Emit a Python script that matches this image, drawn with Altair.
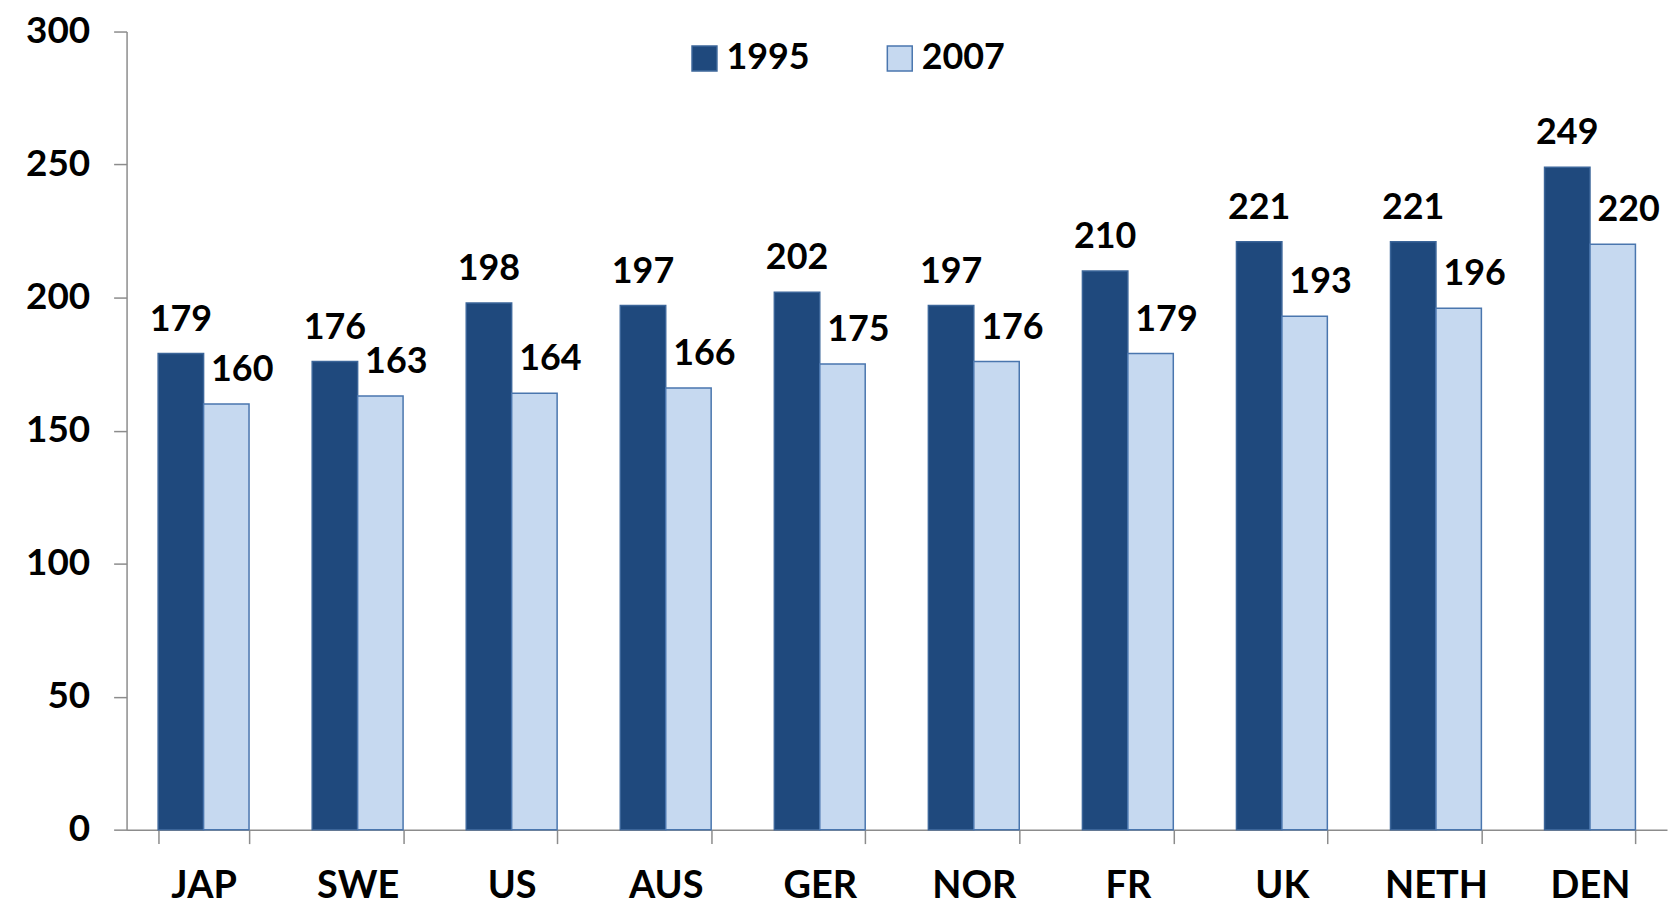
import altair as alt
import pandas as pd

countries = ["JAP", "SWE", "US", "AUS", "GER", "NOR", "FR", "UK", "NETH", "DEN"]
v1995 = [179, 176, 198, 197, 202, 197, 210, 221, 221, 249]
v2007 = [160, 163, 164, 166, 175, 176, 179, 193, 196, 220]
years = ["1995", "2007"]

rows = []
for c, a, b in zip(countries, v1995, v2007):
    rows.append({"country": c, "year": years[0], "value": a})
    rows.append({"country": c, "year": years[1], "value": b})
df = pd.DataFrame(rows)

FONT = "Lato"

x = alt.X("country:N", sort=countries, title=None,
          scale=alt.Scale(paddingInner=0.41, paddingOuter=0.205),
          axis=alt.Axis(labelAngle=0, labelFontSize=38, labelFont=FONT, labelFontWeight="bold",
                        labelColor="black", tickBand="extent", tickSize=14, tickColor="#8c8c8c",
                        tickWidth=1.5, domainColor="#8c8c8c", domainWidth=1.5, labelPadding=24))
xo = alt.XOffset("year:N", sort=years, scale=alt.Scale(paddingInner=0, paddingOuter=0))
y = alt.Y("value:Q", title=None,
          scale=alt.Scale(domain=[0, 300], nice=False),
          axis=alt.Axis(values=[0, 50, 100, 150, 200, 250, 300], grid=False, labelFontSize=37,
                        labelFont=FONT, labelFontWeight="bold", labelColor="black", tickSize=13,
                        tickColor="#8c8c8c", tickWidth=1.5, domainColor="#8c8c8c", domainWidth=1.5,
                        labelPadding=24))

color = alt.Color("year:N", sort=years, title=None,
                  scale=alt.Scale(domain=years, range=["#1f497d", "#c6d9f0"]),
                  legend=alt.Legend(orient="none", legendX=562, legendY=9, direction="horizontal",
                                    symbolType="square", symbolSize=625, symbolStrokeWidth=1.5,
                                    labelFontSize=36, labelFont=FONT, labelFontWeight="bold",
                                    labelColor="black", labelOffset=4, columnPadding=72))
stroke = alt.Stroke("year:N", sort=years, title=None,
                    scale=alt.Scale(domain=years, range=["#3b6599", "#4a76ae"]))

bars = alt.Chart(df).mark_bar(strokeWidth=1.5).encode(x=x, xOffset=xo, y=y, color=color, stroke=stroke)

text1 = alt.Chart(df).transform_filter(alt.datum.year == "1995").mark_text(
    baseline="bottom", dy=-15, fontSize=36, font=FONT, fontWeight="bold", color="black"
).encode(x=x, xOffset=xo, y=y, text="value:Q")
text2 = alt.Chart(df).transform_filter(alt.datum.year == "2007").mark_text(
    baseline="bottom", dy=-15, dx=16, fontSize=36, font=FONT, fontWeight="bold", color="black"
).encode(x=x, xOffset=xo, y=y, text="value:Q")

chart = alt.layer(bars, text1, text2).properties(
    width=1546, height=801,
    autosize=alt.AutoSizeParams(type="none"),
    padding={"left": 119, "top": 22, "right": 2, "bottom": 75},
).configure_view(stroke=None)

chart.save("out.html", embed_options={"renderer": "svg", "actions": False})
